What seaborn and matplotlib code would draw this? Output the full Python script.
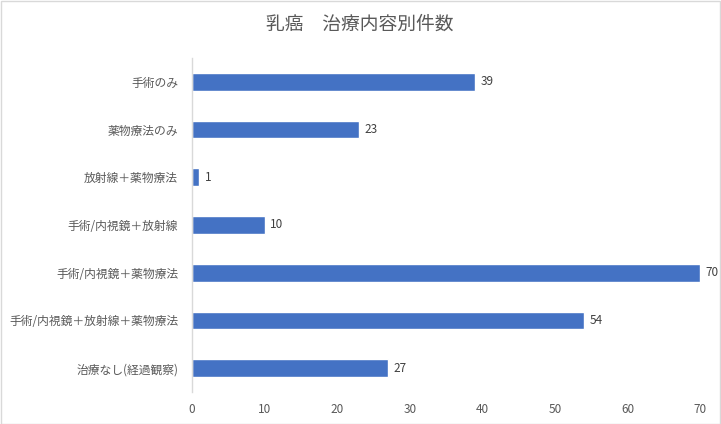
import matplotlib
matplotlib.use('Agg')
import matplotlib.pyplot as plt
import seaborn as sns
import pandas as pd
from matplotlib.patches import Rectangle

categories = ['手術のみ', '薬物療法のみ', '放射線＋薬物療法', '手術/内視鏡＋放射線',
              '手術/内視鏡＋薬物療法', '手術/内視鏡＋放射線＋薬物療法', '治療なし(経過観察)']
counts = [39, 23, 1, 10, 70, 54, 27]
x_ticks = [0, 10, 20, 30, 40, 50, 60, 70]

sns.set_style('white')
plt.rcParams['font.family'] = ['Noto Sans CJK JP', 'DejaVu Sans']

df = pd.DataFrame({'category': categories, 'count': counts})

fig = plt.figure(figsize=(7.21, 4.24), dpi=100)
ax = fig.add_axes([0.2663, 0.0755, 0.7046, 0.7877])

sns.barplot(data=df, x='count', y='category', orient='h', color='#4472C4',
            width=0.37, saturation=1, ax=ax)

for i, v in enumerate(counts):
    ax.text(v + 0.75, i, str(v), va='center', ha='left', fontsize=8.5, color='#404040')

ax.set_xlim(0, 70)
ax.set_ylim(len(categories) - 0.5, -0.5)
ax.set_xticks(x_ticks)
ax.set_xlabel('')
ax.set_ylabel('')
ax.tick_params(axis='both', length=0, labelsize=8.5, labelcolor='#595959')
ax.tick_params(axis='x', pad=8)
ax.tick_params(axis='y', pad=10)

for s in ['top', 'right', 'bottom']:
    ax.spines[s].set_visible(False)
ax.spines['left'].set_color('#D9D9D9')
ax.spines['left'].set_linewidth(1)

fig.text(0.499, 0.943, '乳癌　治療内容別件数', ha='center', va='center',
         fontsize=13.5, color='#595959')

fig.patches.append(Rectangle((0.001, 0.001), 0.997, 0.997, transform=fig.transFigure,
                             fill=False, edgecolor='#D9D9D9', linewidth=1))

plt.savefig('out.png', dpi=100)
